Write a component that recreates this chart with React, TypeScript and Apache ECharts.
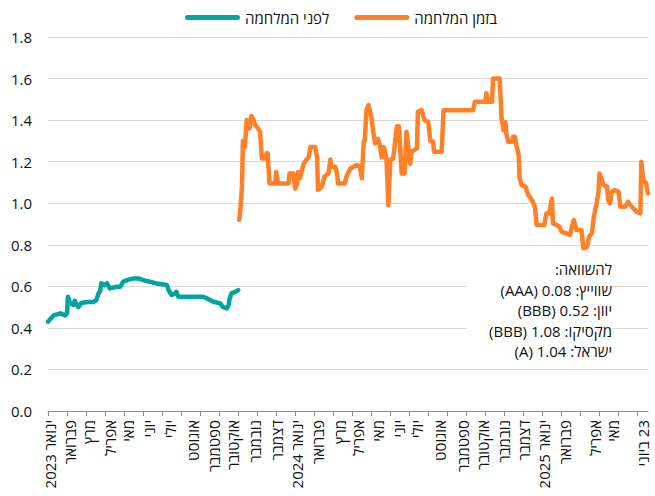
import React, { useEffect, useRef } from "react";
import * as echarts from "echarts";

// Trading-day index (x) and spread value (y)
const beforeWar: [number, number][] = [
  [0, 0.43], [2, 0.44], [6, 0.46], [13, 0.47], [18, 0.46], [20, 0.47], [21, 0.55], [23, 0.52],
  [27, 0.51], [28, 0.53], [32, 0.5], [35, 0.52], [41, 0.525], [48, 0.525], [51, 0.535],
  [53, 0.565], [55, 0.58], [56, 0.615], [60, 0.605], [62, 0.615], [65, 0.59], [72, 0.598],
  [76, 0.598], [79, 0.622], [83, 0.63], [90, 0.638], [95, 0.638], [100, 0.63], [107, 0.622],
  [114, 0.614], [125, 0.606], [127, 0.58], [130, 0.558], [134, 0.566], [135, 0.574],
  [137, 0.55], [142, 0.55], [163, 0.55], [167, 0.542], [174, 0.526], [181, 0.518], [184, 0.5],
  [188, 0.494], [190, 0.51], [191, 0.54], [193, 0.566], [197, 0.574], [200, 0.582],
];

const duringWar: [number, number][] = [
  [201, 0.92], [202, 0.95], [204, 1.08], [205, 1.3], [207, 1.27], [209, 1.4], [212, 1.36],
  [214, 1.42], [216, 1.4], [218, 1.376], [221, 1.36], [223, 1.344], [225, 1.215], [228, 1.215],
  [230, 1.24], [231, 1.24], [233, 1.095], [239, 1.095], [240, 1.15], [242, 1.095], [253, 1.095],
  [254, 1.143], [258, 1.143], [260, 1.07], [262, 1.095], [263, 1.15], [265, 1.12], [269, 1.19],
  [272, 1.21], [274, 1.22], [276, 1.27], [281, 1.27], [283, 1.22], [284, 1.064], [288, 1.08],
  [291, 1.13], [295, 1.143], [297, 1.21], [298, 1.176], [302, 1.176], [304, 1.143], [305, 1.095],
  [312, 1.095], [314, 1.13], [318, 1.167], [325, 1.184], [328, 1.176], [330, 1.12], [332, 1.296],
  [333, 1.3], [335, 1.448], [337, 1.472], [340, 1.416], [342, 1.344], [344, 1.288], [347, 1.31],
  [349, 1.28], [351, 1.22], [353, 1.27], [354, 1.256], [356, 1.21], [358, 0.99], [360, 1.21],
  [363, 1.215], [367, 1.37], [369, 1.37], [372, 1.143], [375, 1.143], [377, 1.344], [381, 1.19],
  [382, 1.248], [388, 1.264], [389, 1.44], [393, 1.448], [396, 1.4], [400, 1.39], [402, 1.3],
  [405, 1.296], [406, 1.248], [414, 1.248], [416, 1.448], [447, 1.448], [449, 1.488],
  [460, 1.488], [461, 1.529], [463, 1.488], [467, 1.488], [468, 1.6], [475, 1.6], [477, 1.41],
  [479, 1.352], [481, 1.39], [482, 1.336], [484, 1.296], [488, 1.296], [489, 1.32], [491, 1.32],
  [493, 1.272], [495, 1.232], [496, 1.12], [498, 1.088], [502, 1.08], [505, 1.04], [509, 1.015],
  [512, 0.983], [514, 0.895], [522, 0.895], [524, 0.95], [527, 0.95], [530, 1.023], [531, 0.903],
  [535, 0.895], [538, 0.887], [540, 0.863], [545, 0.855], [549, 0.847], [551, 0.887],
  [553, 0.919], [556, 0.871], [561, 0.871], [563, 0.783], [567, 0.79], [569, 0.839],
  [572, 0.855], [574, 0.935], [577, 0.999], [579, 1.055], [580, 1.143], [582, 1.12],
  [584, 1.088], [588, 1.08], [589, 1.015], [591, 0.999], [593, 1.055], [596, 1.063],
  [600, 1.055], [602, 0.983], [607, 0.983], [610, 1.007], [614, 0.983], [619, 0.959],
  [623, 0.951], [624, 1.2], [626, 1.112], [629, 1.096], [631, 1.047],
];

const monthLabelPos = [
  2, 23, 43, 65, 84, 106, 128, 152, 175, 195, 218, 241, 262, 284, 307, 326, 347, 369, 388, 412,
  436, 457, 480, 501, 522, 544, 575, 594, 626,
];
const monthLabels = [
  "ינואר 2023", "פברואר", "מרץ", "אפריל", "מאי", "יוני", "יולי", "אוגוסט", "ספטמבר", "אוקטובר",
  "נובמבר", "דצמבר", "ינואר 2024", "פברואר", "מרץ", "אפריל", "מאי", "יוני", "יולי", "אוגוסט",
  "ספטמבר", "אוקטובר", "נובמבר", "דצמבר", "ינואר 2025", "פברואר", "אפריל", "מאי", "23 ביוני",
];
const tickPos = [
  0, 20, 40, 60, 80, 100, 120, 140, 160, 180, 200, 220, 240, 260, 280, 300, 320, 340, 360, 380,
  400, 420, 440, 460, 480, 500, 520, 540, 560, 580, 600, 620,
];

const seriesNames = ["לפני המלחמה", "בזמן המלחמה"];
const comparisonLines = [
  "להשוואה:",
  "שווייץ: 0.08 (AAA)",
  "יוון: 0.52 (BBB)",
  "מקסיקו: 1.08 (BBB)",
  "ישראל: 1.04 (A)",
];

const FONT = "'Open Sans', 'Noto Sans', 'DejaVu Sans', sans-serif";
const rtl = (s: string) => "\u202B" + s + "\u202C";

export default function App() {
  const ref = useRef<HTMLDivElement>(null);
  useEffect(() => {
    const chart = echarts.init(ref.current!, null, { renderer: "svg" });
    const labelMap: Record<number, string> = {};
    monthLabelPos.forEach((p, i) => (labelMap[p] = monthLabels[i]));
    const lineY = [269, 289.5, 310, 330.5, 351];
    chart.setOption({
      animation: false,
      backgroundColor: "#ffffff",
      textStyle: { fontFamily: FONT },
      legend: {
        left: 180,
        top: 5,
        itemWidth: 55,
        itemHeight: 5,
        itemGap: 25,
        icon: "path://M2.5,0H52.5A2.5,2.5,0,0,1,52.5,5H2.5A2.5,2.5,0,0,1,2.5,0Z",
        textStyle: { fontSize: 15, color: "#111111", fontFamily: FONT },
        data: seriesNames,
      },
      grid: { left: 48, right: 7, top: 37, bottom: 85 },
      xAxis: {
        type: "value",
        min: 0,
        max: 631,
        splitLine: { show: false },
        axisLine: { show: true, lineStyle: { color: "#8c8c8c", width: 1 } },
        axisTick: { show: true, length: 5, customValues: tickPos, lineStyle: { color: "#8c8c8c" } },
        axisLabel: {
          customValues: monthLabelPos,
          rotate: 90,
          margin: 9,
          fontSize: 15,
          color: "#111111",
          fontFamily: FONT,
          formatter: (v: number) => rtl(labelMap[v] ?? ""),
        },
      },
      yAxis: {
        type: "value",
        min: 0,
        max: 1.8,
        interval: 0.2,
        axisLine: { show: false },
        axisTick: { show: false },
        splitLine: { lineStyle: { color: "#d9d9d9", width: 1 } },
        axisLabel: {
          margin: 16,
          fontSize: 15,
          color: "#111111",
          fontFamily: FONT,
          formatter: (v: number) => v.toFixed(1),
        },
      },
      series: [
        {
          name: seriesNames[0],
          type: "line",
          data: beforeWar,
          showSymbol: false,
          symbol: "none",
          color: "#00a59f",
          lineStyle: { width: 4.5, color: "#00a59f", cap: "round", join: "round" },
        },
        {
          name: seriesNames[1],
          type: "line",
          data: duringWar,
          showSymbol: false,
          symbol: "none",
          color: "#ff8027",
          lineStyle: { width: 4.5, color: "#ff8027", cap: "round", join: "round" },
        },
      ],
      graphic: [
        {
          type: "rect",
          shape: { x: 467, y: 258, width: 145, height: 104 },
          style: { fill: "#ffffff" },
          z: 10,
        },
        ...comparisonLines.map((t, i) => ({
          type: "text",
          x: 612,
          y: lineY[i],
          z: 11,
          style: {
            text: rtl(t),
            fill: "#111111",
            font: `15px ${FONT}`,
            align: "right",
            verticalAlign: "middle",
            textAlign: "right",
            textVerticalAlign: "middle",
          },
        })),
      ],
    });
    return () => chart.dispose();
  }, []);
  return (
    <div
      ref={ref}
      style={{ position: "fixed", left: 0, top: 0, width: 655, height: 496 }}
    />
  );
}
